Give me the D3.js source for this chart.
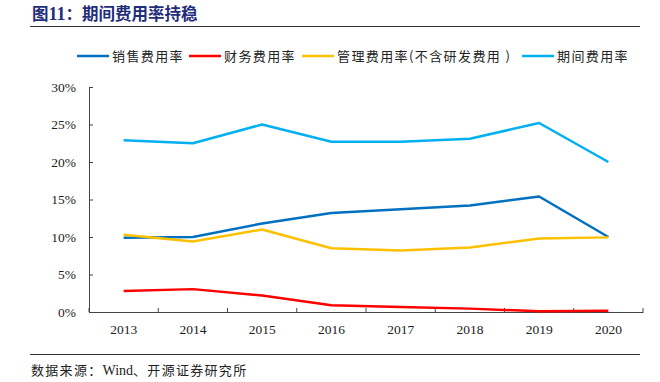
<!DOCTYPE html>
<html><head><meta charset="utf-8">
<script src="https://cdn.jsdelivr.net/npm/d3@7"></script>
<style>body{margin:0;background:#fff}svg{display:block}</style>
</head><body>
<svg id="c" width="660" height="382"></svg>
<script>
const years = ["2013","2014","2015","2016","2017","2018","2019","2020"];
const sales   = [9.9, 10.0, 11.8, 13.2, 13.7, 14.2, 15.4, 10.0];
const finance = [2.8, 3.05, 2.2, 0.9, 0.66, 0.45, 0.1, 0.17];
const admin   = [10.3, 9.4, 11.0, 8.5, 8.2, 8.6, 9.8, 9.95];
const period  = [22.9, 22.5, 25.0, 22.7, 22.7, 23.1, 25.2, 20.0];
const seriesNames = ["销售费用率","财务费用率","管理费用率(不含研发费用 )","期间费用率"];
const colors = ["#0070C0","#FF0000","#FFC000","#00B0F0"];
const yTicks = [0,5,10,15,20,25,30];
const allSeries = [sales, finance, admin, period];

const svg = d3.select("#c");
const L = 89, R = 643, T = 87, B = 312;
const x = d3.scaleBand().domain(years).range([L, R]);
const y = d3.scaleLinear().domain([0, 30]).range([B, T]);

// title
const title = svg.append("text").attr("x", 32).attr("y", 20)
  .attr("font-family", "'Noto Sans CJK SC', sans-serif").attr("font-weight", "bold")
  .attr("font-size", 16.5).attr("fill", "#1F2D7A");
title.append("tspan").text("图");
title.append("tspan").attr("font-family", "'Liberation Serif', serif").attr("font-size", 18).text("11");
title.append("tspan").text("：期间费用率持稳");
svg.append("line").attr("x1", 30).attr("x2", 640).attr("y1", 26.5).attr("y2", 26.5)
  .attr("stroke", "#333").attr("stroke-width", 1);

// legend
const legX = [77, 189, 302, 522];
seriesNames.forEach((n, i) => {
  const g = svg.append("g");
  g.append("line").attr("x1", legX[i]).attr("x2", legX[i] + 32).attr("y1", 56).attr("y2", 56)
    .attr("stroke", colors[i]).attr("stroke-width", 2.5);
  g.append("text").attr("x", legX[i] + 35).attr("y", 60.5)
    .attr("font-family", "'Noto Sans CJK SC', sans-serif").attr("font-size", 13)
    .attr("letter-spacing", 1.4).attr("fill", "#222").text(n);
});

// y axis
const yAxis = d3.axisRight(y).tickValues(yTicks).tickSize(4).tickFormat("");
const gy = svg.append("g").attr("transform", `translate(${L},0)`).call(yAxis);
gy.selectAll("path,line").attr("stroke", "#444");
yTicks.forEach(v => {
  svg.append("text").attr("x", 76).attr("y", y(v) + 4.5).attr("text-anchor", "end")
    .attr("font-family", "'Liberation Serif', serif").attr("font-size", 13.5).attr("fill", "#222")
    .text(v + "%");
});

// x axis
const gx = svg.append("g").attr("transform", `translate(0,${B})`)
  .call(d3.axisTop(x).tickSize(0).tickFormat(""));
gx.select("path").attr("stroke", "#444");
const bounds = years.map(d => x(d)).concat([R]);
svg.selectAll(".xt").data(bounds).enter().append("line")
  .attr("x1", d => d).attr("x2", d => d).attr("y1", B).attr("y2", B - 4)
  .attr("stroke", "#444");
svg.selectAll(".xl").data(years).enter().append("text")
  .attr("x", d => x(d) + x.bandwidth() / 2).attr("y", 334).attr("text-anchor", "middle")
  .attr("font-family", "'Liberation Serif', serif").attr("font-size", 13.5).attr("fill", "#222")
  .text(d => d);

// lines
const line = d3.line().x((d, i) => x(years[i]) + x.bandwidth() / 2).y(d => y(d));
allSeries.forEach((s, i) => {
  svg.append("path").datum(s).attr("d", line).attr("fill", "none")
    .attr("stroke", colors[i]).attr("stroke-width", 2.5).attr("stroke-linejoin", "round");
});

// source
svg.append("line").attr("x1", 30).attr("x2", 640).attr("y1", 354.5).attr("y2", 354.5)
  .attr("stroke", "#333").attr("stroke-width", 1);
const src = svg.append("text").attr("x", 31).attr("y", 374.5)
  .attr("font-family", "'Noto Sans CJK SC', sans-serif").attr("font-size", 13)
  .attr("letter-spacing", 1.3).attr("fill", "#222");
src.append("tspan").text("数据来源：");
src.append("tspan").attr("font-family", "'Liberation Serif', serif").attr("font-size", 14).attr("letter-spacing", 0).text("Wind");
src.append("tspan").text("、开源证券研究所");
</script>
</body></html>
